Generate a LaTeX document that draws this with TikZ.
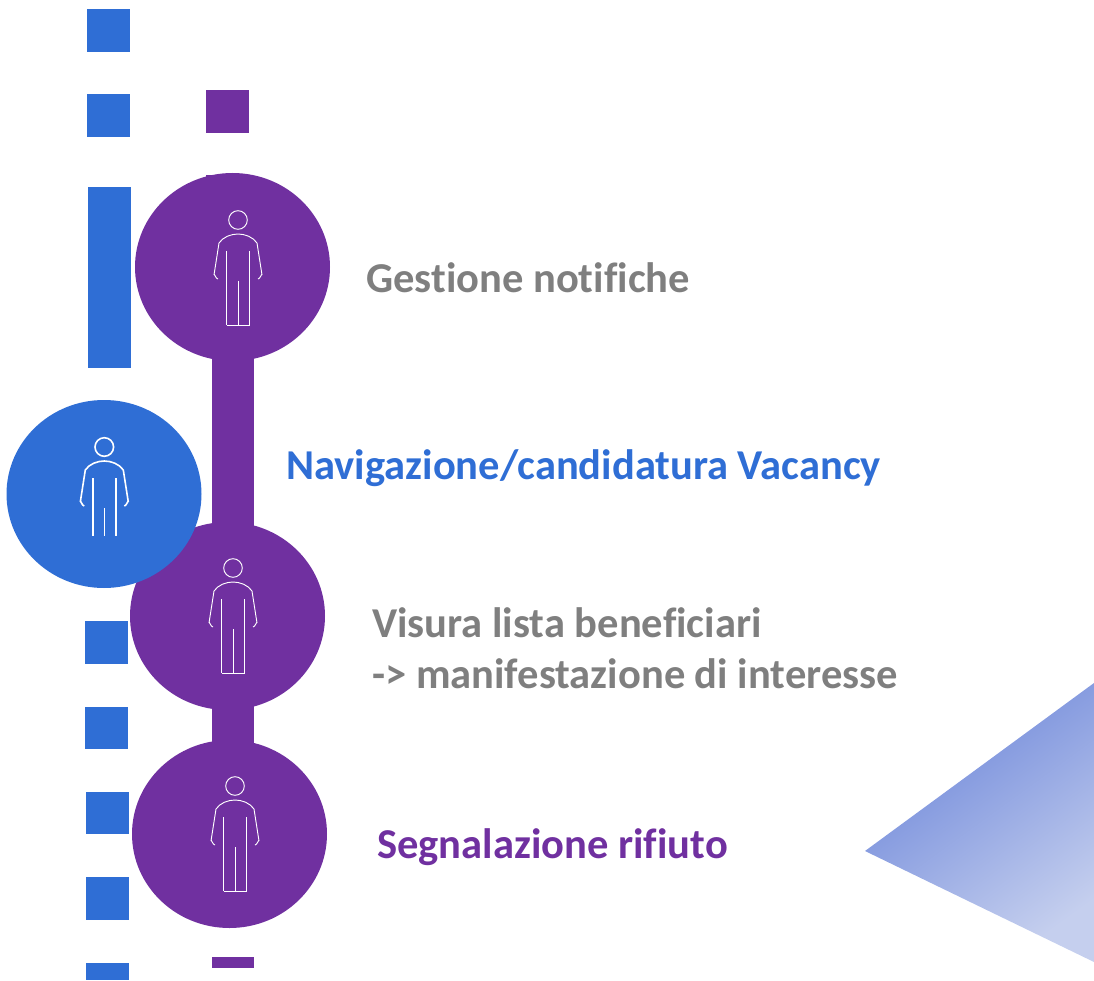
\documentclass[tikz,border=0pt]{standalone}
\usepackage{fontspec}
\setmainfont{Carlito}[Ligatures=NoCommon]
\usepackage{xcolor}
\usetikzlibrary{shapes.geometric}

\definecolor{blu}{HTML}{2F6ED5}
\definecolor{viola}{HTML}{7030A0}
\definecolor{grigio}{HTML}{7F7F7F}
\definecolor{triA}{HTML}{6A84D9}
\definecolor{triB}{HTML}{C5CFEE}

\tikzset{
  cerchio/.style={ellipse,inner sep=0pt,minimum width=146.25pt,minimum height=141pt},
  barra/.style={viola,line width=31.5pt},
  voce/.style={anchor=base west,inner sep=0pt,font=\fontsize{31.9pt}{38pt}\selectfont\bfseries},
  pics/persona/.style={code={
    \draw (0,0) circle (9.3);
    \draw (-24,55) to[out=80,in=180] (-20,59);
    \draw (24,55) to[out=100,in=0] (20,59);
    \draw (-24,55) -- (-19,23) .. controls (-15,17) and (-7,14) .. (0,14) .. controls (7,14) and (15,17) .. (19,23) -- (24,55);
    \draw (-11.5,31) -- (-11.5,#1);
    \draw (11.5,31) -- (11.5,#1);
    \draw (0,61) -- (0,#1);
  }}
}

\begin{document}
\begin{tikzpicture}[x=0.75pt,y=-0.75pt]
\useasboundingbox (0,0) rectangle (1094,980);

\foreach \x/\y/\h in {87/9/43,87/94/43,88/187/181,85/621/43,85/707/42,86/792/42,86/877/43,86/963/17}
   \fill[blu] (\x,\y) rectangle +(43,\h);

\foreach \y/\h in {90/43,175/30}
   \fill[viola] (206,\y) rectangle +(43,\h);
\fill[viola] (212,957) rectangle (254,968);

\shade[left color=triA,right color=triB,shading angle=36]
   (865,851) -- (1094,683) -- (1094,962) -- cycle;

\coordinate (b1) at (233,267);
\coordinate (b3) at (233,616);
\coordinate (b4) at (233,834);
\draw[barra] (b1) -- (b3);
\draw[barra] (b3) -- (b4);

\node[cerchio,fill=viola] (gestione) at (232.5,267) {};
\node[cerchio,fill=viola] (visura) at (227.5,616) {};
\node[cerchio,fill=viola] (segnalazione) at (229.5,834) {};
\node[cerchio,fill=blu] (navigazione) at (104,494) {};

% omini
\pic[white,line width=0.7pt] at (238,220) {persona=105};
\pic[white,line width=0.7pt] at (233,568) {persona=105};
\pic[white,line width=0.7pt] at (235,786) {persona=105};
\pic[white,line width=1.2pt] at (104.3,447) {persona=89};
\draw[white,line width=0.7pt] (226.5,325) -- (249.5,325);
\draw[white,line width=0.7pt] (221.5,673) -- (244.5,673);
\draw[white,line width=0.7pt] (223.5,891) -- (246.5,891);

\node[voce,text=grigio] (t1) at (366,292) {Gestione notifiche};
\node[voce,text=blu] (t2) at (286,479) {Navigazione/candidatura Vacancy};
\node[voce,text=grigio] (t3) at (372,637) {Visura lista beneficiari};
\node[voce,text=grigio] (t4) at (372,688) {-> manifestazione di interesse};
\node[voce,text=viola] (t5) at (377,858) {Segnalazione rifiuto};

\end{tikzpicture}
\end{document}
